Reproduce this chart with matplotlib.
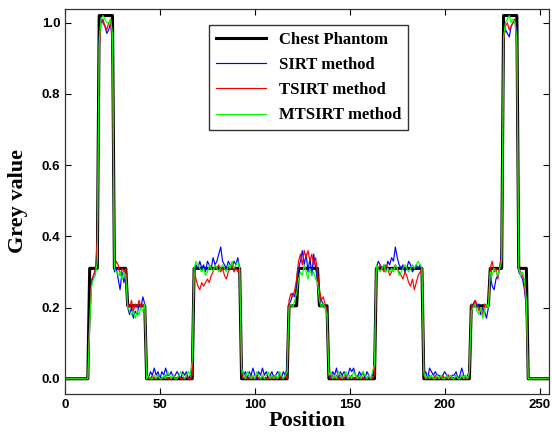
import numpy as np
import matplotlib
matplotlib.use("Agg")
import matplotlib.pyplot as plt

# phantom profile: grey level of each run and its length in pixels
phantom_levels = [0, 0.31, 1.02, 0.31, 0.205, 0, 0.31, 0, 0.205, 0.31,
                  0.205, 0, 0.31, 0, 0.205, 0.31, 1.02, 0.31, 0]
phantom_runs = [13, 5, 8, 7, 10, 25, 25, 25, 5, 11, 5, 25, 25, 25, 10, 7, 8, 5, 12]

sirt = [
    0, 0, 0, 0, 0, 0, 0, 0, 0, 0, 0, 0, 0,
    0.17, 0.27, 0.29, 0.30, 0.35,
    0.96, 1.01, 1.00, 0.99, 0.97, 0.98, 1.00, 0.95,
    0.30, 0.31, 0.28, 0.25, 0.30, 0.27, 0.29,
    0.20, 0.18, 0.20, 0.17, 0.19, 0.18, 0.21, 0.20, 0.23, 0.21,
    0.01, 0.00, 0.02, 0.01, 0.03, 0.01, 0.02, 0.00, 0.02, 0.01, 0.03, 0.01, 0.01,
    0.02, 0.00, 0.01, 0.02, 0.01, 0.00, 0.02, 0.01, 0.02, 0.00, 0.01, 0.04,
    0.30, 0.32, 0.31, 0.33, 0.31, 0.32, 0.30, 0.33, 0.32, 0.31, 0.34, 0.32, 0.33,
    0.35, 0.37, 0.33, 0.32, 0.31, 0.33, 0.32, 0.31, 0.33, 0.32, 0.34, 0.31,
    0.04, 0.01, 0.02, 0.00, 0.02, 0.01, 0.03, 0.01, 0.00, 0.02, 0.01, 0.03, 0.01,
    0.02, 0.00, 0.01, 0.02, 0.00, 0.01, 0.02, 0.01, 0.00, 0.02, 0.01, 0.03,
    0.21, 0.22, 0.24, 0.23, 0.27,
    0.31, 0.33, 0.36, 0.32, 0.35, 0.30, 0.34, 0.29, 0.35, 0.31, 0.28,
    0.24, 0.22, 0.21, 0.20, 0.18,
    0.02, 0.00, 0.02, 0.01, 0.03, 0.00, 0.02, 0.01, 0.02, 0.00, 0.01, 0.03, 0.02,
    0.03, 0.01, 0.00, 0.02, 0.01, 0.02, 0.00, 0.02, 0.01, 0.00, 0.01, 0.03,
    0.31, 0.33, 0.32, 0.31, 0.32, 0.30, 0.33, 0.32, 0.34, 0.33, 0.37, 0.34, 0.32,
    0.31, 0.32, 0.30, 0.31, 0.33, 0.32, 0.30, 0.31, 0.32, 0.31, 0.32, 0.31,
    0.01, 0.02, 0.00, 0.03, 0.02, 0.01, 0.02, 0.01, 0.01, 0.00, 0.01, 0.02, 0.01,
    0.01, 0.00, 0.01, 0.01, 0.02, 0.00, 0.01, 0.03, 0.01, 0.00, 0.01, 0.02,
    0.19, 0.21, 0.22, 0.20, 0.21, 0.18, 0.20, 0.19, 0.17, 0.20,
    0.29, 0.26, 0.25, 0.28, 0.29, 0.31, 0.36,
    0.96, 0.98, 0.97, 0.96, 0.99, 1.00, 1.01, 0.97,
    0.30, 0.29, 0.28, 0.25, 0.20,
    0, 0, 0, 0, 0, 0, 0, 0, 0, 0, 0, 0,
]

tsirt = [
    0, 0, 0, 0, 0, 0, 0, 0, 0, 0, 0, 0, 0,
    0.16, 0.28, 0.29, 0.31, 0.39,
    0.93, 1.00, 1.01, 0.99, 0.98, 1.00, 1.01, 0.92,
    0.31, 0.33, 0.32, 0.29, 0.31, 0.30, 0.31,
    0.21, 0.20, 0.22, 0.19, 0.21, 0.20, 0.22, 0.20, 0.21, 0.20,
    0.01, 0.00, 0.00, 0.01, 0.00, 0.00, 0.01, 0.00, 0.00, 0.00, 0.01, 0.00, 0.00,
    0.00, 0.01, 0.00, 0.00, 0.01, 0.00, 0.00, 0.00, 0.01, 0.00, 0.00, 0.01,
    0.30, 0.28, 0.26, 0.25, 0.27, 0.26, 0.27, 0.28, 0.27, 0.29, 0.30, 0.32, 0.31,
    0.32, 0.30, 0.31, 0.29, 0.28, 0.30, 0.31, 0.32, 0.30, 0.31, 0.30, 0.31,
    0.01, 0.00, 0.01, 0.00, 0.00, 0.01, 0.00, 0.00, 0.01, 0.00, 0.00, 0.01, 0.00,
    0.00, 0.00, 0.01, 0.00, 0.01, 0.00, 0.00, 0.01, 0.00, 0.00, 0.01, 0.00,
    0.22, 0.24, 0.23, 0.25, 0.28,
    0.33, 0.35, 0.32, 0.36, 0.34, 0.36, 0.33, 0.35, 0.32, 0.34, 0.30,
    0.25, 0.22, 0.23, 0.21, 0.19,
    0.01, 0.00, 0.01, 0.00, 0.01, 0.00, 0.00, 0.01, 0.00, 0.01, 0.00, 0.00, 0.01,
    0.00, 0.00, 0.01, 0.00, 0.01, 0.00, 0.00, 0.00, 0.01, 0.00, 0.00, 0.01,
    0.30, 0.31, 0.32, 0.31, 0.30, 0.32, 0.31, 0.29, 0.30, 0.31, 0.32, 0.31, 0.30,
    0.29, 0.28, 0.30, 0.29, 0.27, 0.26, 0.28, 0.25, 0.27, 0.29, 0.30, 0.31,
    0.01, 0.00, 0.00, 0.01, 0.00, 0.00, 0.01, 0.00, 0.00, 0.00, 0.01, 0.00, 0.00,
    0.01, 0.00, 0.00, 0.00, 0.01, 0.00, 0.00, 0.01, 0.00, 0.00, 0.00, 0.01,
    0.21, 0.20, 0.22, 0.21, 0.19, 0.20, 0.18, 0.21, 0.20, 0.21,
    0.31, 0.33, 0.30, 0.31, 0.28, 0.32, 0.34,
    0.95, 0.99, 1.00, 0.98, 0.99, 1.00, 1.01, 0.93,
    0.31, 0.30, 0.29, 0.27, 0.20,
    0, 0, 0, 0, 0, 0, 0, 0, 0, 0, 0, 0,
]

mtsirt = [
    0, 0, 0, 0, 0, 0, 0, 0, 0, 0, 0, 0, 0,
    0.15, 0.26, 0.28, 0.29, 0.33,
    0.95, 1.01, 1.02, 1.01, 1.00, 1.00, 1.01, 0.97,
    0.31, 0.30, 0.29, 0.30, 0.28, 0.30, 0.29,
    0.20, 0.19, 0.18, 0.19, 0.17, 0.19, 0.18, 0.20, 0.19, 0.21,
    0.00, 0.01, 0.00, 0.00, 0.01, 0.00, 0.01, 0.00, 0.00, 0.01, 0.00, 0.02, 0.01,
    0.00, 0.01, 0.00, 0.00, 0.01, 0.02, 0.01, 0.00, 0.01, 0.02, 0.01, 0.05,
    0.31, 0.33, 0.32, 0.31, 0.30, 0.31, 0.29, 0.30, 0.32, 0.31, 0.30, 0.32, 0.31,
    0.30, 0.31, 0.32, 0.31, 0.30, 0.32, 0.31, 0.33, 0.31, 0.32, 0.33, 0.31,
    0.03, 0.01, 0.00, 0.02, 0.01, 0.00, 0.01, 0.00, 0.02, 0.01, 0.00, 0.01, 0.00,
    0.01, 0.02, 0.00, 0.01, 0.00, 0.01, 0.00, 0.02, 0.01, 0.00, 0.01, 0.02,
    0.20, 0.21, 0.20, 0.22, 0.24,
    0.28, 0.30, 0.29, 0.32, 0.30, 0.28, 0.31, 0.29, 0.30, 0.28, 0.27,
    0.22, 0.20, 0.21, 0.20, 0.18,
    0.01, 0.02, 0.00, 0.01, 0.00, 0.02, 0.01, 0.00, 0.01, 0.02, 0.00, 0.01, 0.00,
    0.02, 0.01, 0.00, 0.01, 0.00, 0.02, 0.01, 0.00, 0.01, 0.00, 0.02, 0.04,
    0.32, 0.31, 0.30, 0.31, 0.32, 0.30, 0.31, 0.30, 0.31, 0.30, 0.32, 0.31, 0.29,
    0.30, 0.31, 0.32, 0.31, 0.30, 0.31, 0.32, 0.31, 0.32, 0.33, 0.32, 0.31,
    0.02, 0.00, 0.01, 0.00, 0.01, 0.00, 0.00, 0.01, 0.00, 0.01, 0.00, 0.00, 0.01,
    0.00, 0.01, 0.00, 0.00, 0.01, 0.00, 0.00, 0.01, 0.00, 0.01, 0.00, 0.02,
    0.19, 0.20, 0.21, 0.19, 0.18, 0.20, 0.17, 0.19, 0.21, 0.20,
    0.30, 0.29, 0.31, 0.30, 0.29, 0.31, 0.33,
    0.96, 1.00, 1.01, 1.02, 1.00, 1.01, 1.00, 0.95,
    0.31, 0.29, 0.30, 0.28, 0.22,
    0, 0, 0, 0, 0, 0, 0, 0, 0, 0, 0, 0,
]

phantom = np.repeat(phantom_levels, phantom_runs)
pos = np.arange(len(phantom))

fig = plt.figure(figsize=(5.52, 4.36), dpi=100)
ax = fig.add_axes([0.1178, 0.097, 0.877, 0.882])

ax.plot(pos, phantom, color="black", lw=2.2, label="Chest Phantom")
ax.plot(pos, sirt, color="blue", lw=0.85, label="SIRT method")
ax.plot(pos, tsirt, color="red", lw=0.85, label="TSIRT method")
ax.plot(pos, mtsirt, color="#00ff00", lw=0.85, label="MTSIRT method")

ax.set_xlim(0, 255)
ax.set_ylim(-0.042, 1.038)
ax.set_xticks([0, 50, 100, 150, 200, 250])
ax.set_yticks([0.0, 0.2, 0.4, 0.6, 0.8, 1.0])
ax.set_yticklabels(["0.0", "0.2", "0.4", "0.6", "0.8", "1.0"])
ax.tick_params(direction="in", top=True, right=True, length=4, width=0.8,
               labelsize=9.5)
for lab in ax.get_xticklabels() + ax.get_yticklabels():
    lab.set_fontweight("bold")
    lab.set_family("Liberation Sans")
for sp in ax.spines.values():
    sp.set_linewidth(0.9)
    sp.set_color("#333333")

ax.set_xlabel("Position", family="Liberation Serif", fontweight="bold",
              fontsize=16, labelpad=0)
ax.set_ylabel("Grey value", family="Liberation Serif", fontweight="bold",
              fontsize=16, labelpad=10)

leg = ax.legend(loc="upper left", bbox_to_anchor=(0.2975, 0.958),
                borderaxespad=0, fancybox=False, edgecolor="black",
                handlelength=3.0, labelspacing=0.55,
                prop={"family": "Liberation Serif", "weight": "bold", "size": 12})
leg.get_frame().set_linewidth(1.0)

fig.savefig("out.png", dpi=100)
